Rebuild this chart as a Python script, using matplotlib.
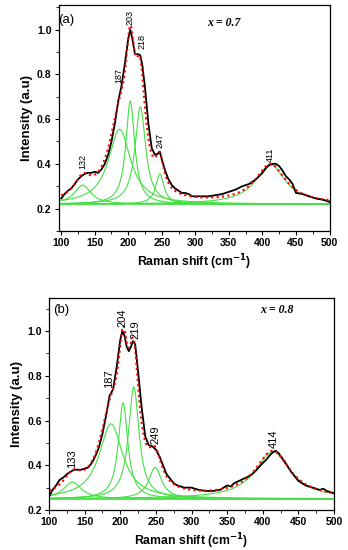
import numpy as np
import matplotlib
matplotlib.use('Agg')
import matplotlib.pyplot as plt
from matplotlib.ticker import MultipleLocator

plt.rcParams['font.family'] = ['Liberation Sans', 'DejaVu Sans']

# ── DATA: x = 0.7 ────────────────────────────────────────────────────────────
shift_a = [100, 105, 110, 115, 120, 125, 130, 135, 140, 145, 150, 155, 160, 165,
           170, 175, 180, 185, 190, 195, 200, 203, 206, 210, 215, 218, 221, 225,
           230, 235, 240, 244, 247, 250, 255, 260, 265, 270, 275, 280, 285, 290,
           295, 300, 310, 320, 330, 340, 350, 360, 370, 375, 380, 390, 400, 405,
           410, 415, 420, 425, 430, 435, 440, 445, 450, 460, 470, 480, 490, 495, 500]
inten_a = [0.245, 0.265, 0.28, 0.29, 0.31, 0.33, 0.345, 0.355, 0.36, 0.36, 0.365,
           0.36, 0.375, 0.40, 0.44, 0.50, 0.58, 0.68, 0.75, 0.85, 0.96, 1.0, 0.96,
           0.89, 0.89, 0.885, 0.84, 0.74, 0.58, 0.47, 0.44, 0.445, 0.455, 0.42,
           0.37, 0.33, 0.305, 0.29, 0.28, 0.27, 0.27, 0.265, 0.255, 0.255, 0.255,
           0.255, 0.26, 0.265, 0.275, 0.285, 0.30, 0.305, 0.31, 0.33, 0.36, 0.38,
           0.395, 0.40, 0.40, 0.39, 0.37, 0.345, 0.33, 0.31, 0.27, 0.265, 0.255,
           0.245, 0.24, 0.235, 0.23]
base_a = 0.22
centers_a = [132, 187, 203, 218, 247, 412]
heights_a = [0.085, 0.335, 0.46, 0.435, 0.135, 0.175]
hwhm_a = [15, 20, 8, 9.5, 7.5, 27.5]
labels_a = ['132', '187', '203', '218', '247', '411']
label_pos_a = [(133, 0.375), (186, 0.76), (203, 1.02), (220, 0.915), (248, 0.47), (412, 0.41)]

# ── DATA: x = 0.8 ────────────────────────────────────────────────────────────
shift_b = [100, 105, 110, 115, 120, 125, 130, 135, 140, 145, 150, 155, 160, 165,
           170, 175, 180, 185, 190, 195, 200, 203, 206, 209, 212, 215, 218, 221,
           225, 230, 235, 240, 245, 250, 255, 260, 265, 270, 275, 280, 290, 300,
           305, 310, 320, 330, 340, 345, 350, 355, 360, 370, 380, 385, 390, 400,
           405, 410, 415, 418, 422, 430, 440, 450, 460, 470, 480, 485, 490, 500]
inten_b = [0.26, 0.29, 0.31, 0.335, 0.345, 0.36, 0.37, 0.38, 0.38, 0.38, 0.385,
           0.39, 0.41, 0.44, 0.48, 0.54, 0.62, 0.71, 0.74, 0.84, 0.96, 1.0, 0.98,
           0.93, 0.91, 0.93, 0.955, 0.94, 0.82, 0.66, 0.53, 0.49, 0.485, 0.47,
           0.44, 0.40, 0.36, 0.34, 0.32, 0.31, 0.30, 0.30, 0.295, 0.29, 0.285,
           0.285, 0.29, 0.30, 0.31, 0.305, 0.32, 0.335, 0.35, 0.36, 0.375, 0.41,
           0.425, 0.445, 0.46, 0.465, 0.455, 0.42, 0.37, 0.33, 0.31, 0.30, 0.29,
           0.295, 0.285, 0.275]
base_b = 0.25
centers_b = [133, 187, 204, 219, 249, 414]
heights_b = [0.075, 0.335, 0.43, 0.50, 0.14, 0.21]
hwhm_b = [15, 20, 8, 9, 11, 30]
labels_b = ['133', '187', '204', '219', '249', '414']
label_pos_b = [(133, 0.39), (185, 0.745), (203, 1.02), (222, 0.965), (250, 0.495), (415, 0.475)]


def lorentz(x, c, h, w):
    return h / (1 + ((x - c) / w) ** 2)


fig = plt.figure(figsize=(3.48, 5.5), dpi=100)
ax_a = fig.add_axes([58.5 / 348, 1 - 231 / 550, (329.5 - 58.5) / 348, (231 - 5) / 550])
ax_b = fig.add_axes([49 / 348, 1 - 510 / 550, (334 - 49) / 348, (510 - 297.5) / 550])

panels = [
    (ax_a, shift_a, inten_a, base_a, centers_a, heights_a, hwhm_a, labels_a,
     label_pos_a, (96, 500), (0.1, 1.11), '(a)', (108, 1.045), 'x = 0.7', (342, 1.03), 6.5),
    (ax_b, shift_b, inten_b, base_b, centers_b, heights_b, hwhm_b, labels_b,
     label_pos_b, (100, 500), (0.2, 1.15), '(b)', (117, 1.094), 'x = 0.8', (420, 1.094), 8),
]

green = '#44e044'
for (ax, xs, ys, base, cs, hs, ws, labs, lpos, xlim, ylim, tag, tagpos,
     comp, comppos, lsize) in panels:
    grid = np.linspace(100, 500, 801)
    fit = np.full_like(grid, base)
    ax.plot(grid, np.full_like(grid, base), color=green, lw=1.2)
    for c, h, w in zip(cs, hs, ws):
        comp_curve = lorentz(grid, c, h, w)
        fit += comp_curve
        ax.plot(grid, base + comp_curve, color=green, lw=0.8)
    ax.plot(xs, ys, color='black', lw=1.3)
    ax.plot(grid, fit, color='red', lw=1.5, linestyle=(0, (1, 1.6)))

    for lab, (lx, ly) in zip(labs, lpos):
        ax.text(lx, ly, lab, rotation=90, fontsize=lsize, ha='center', va='bottom')

    ax.text(tagpos[0], tagpos[1], tag, fontsize=9.5, ha='center', va='center')
    ax.text(comppos[0], comppos[1], comp, fontsize=8.5, ha='center', va='center',
            family='Liberation Serif', style='italic', fontweight='bold')

    ax.set_xlim(*xlim)
    ax.set_ylim(*ylim)
    ax.xaxis.set_major_locator(MultipleLocator(50))
    ax.xaxis.set_minor_locator(MultipleLocator(25))
    ax.yaxis.set_minor_locator(MultipleLocator(0.1))
    ax.set_yticks(np.arange(0.2, 1.01, 0.2))
    ax.yaxis.set_major_formatter(plt.FuncFormatter(lambda v, p: f'{v:.1f}'))
    ax.tick_params(direction='out', length=3, width=0.8, labelsize=7.5, pad=2)
    ax.tick_params(which='minor', direction='out', length=2, width=0.6)
    for lbl in ax.get_xticklabels() + ax.get_yticklabels():
        lbl.set_fontweight('bold')
    for sp in ax.spines.values():
        sp.set_linewidth(0.9)
    ax.set_ylabel('Intensity (a.u)', fontsize=9.5, fontweight='bold', labelpad=3)
    ax.set_xlabel(r'Raman shift (cm$^{\mathbf{-1}}$)', fontsize=8.8, fontweight='bold',
                  labelpad=3)

fig.savefig('out.png', dpi=100)
